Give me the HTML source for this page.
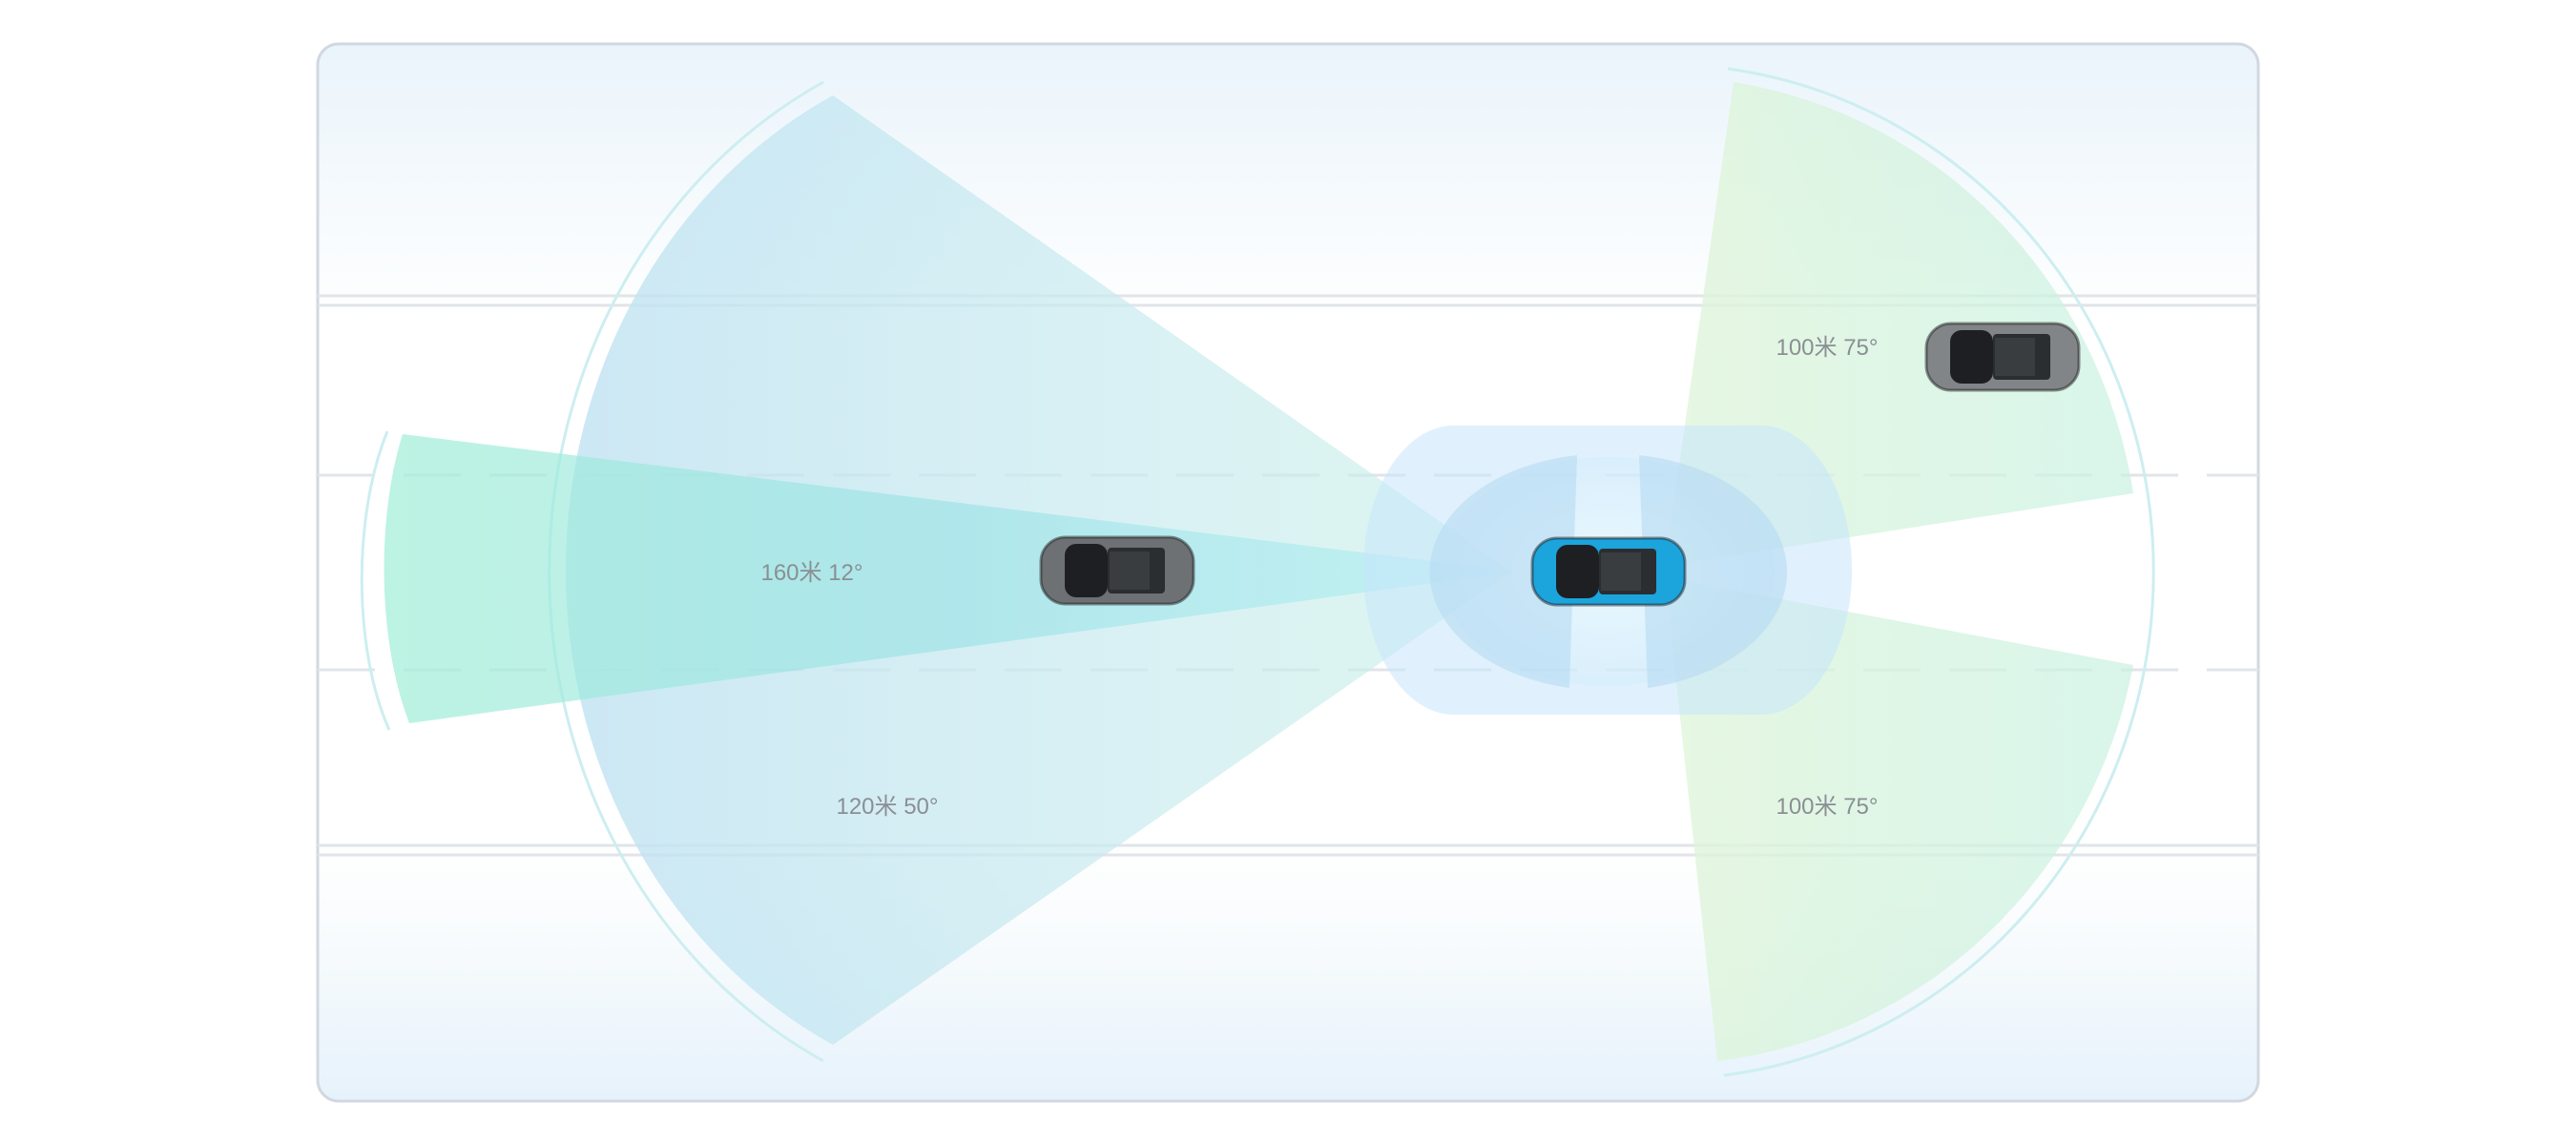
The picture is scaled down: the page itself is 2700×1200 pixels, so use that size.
<!DOCTYPE html>
<html><head><meta charset="utf-8"><style>
html,body{margin:0;padding:0;background:#fff;}
svg{display:block}
text{font-family:"Liberation Sans","Noto Sans CJK SC",sans-serif;font-size:24px;fill:#8a8f94;}
</style></head><body>
<svg width="2700" height="1200" viewBox="0 0 2700 1200" xmlns="http://www.w3.org/2000/svg">
<defs>
<linearGradient id="bg" x1="0" y1="0" x2="0" y2="1">
<stop offset="0" stop-color="#eaf4fb"/><stop offset="0.22" stop-color="#fbfdfe"/>
<stop offset="0.26" stop-color="#ffffff"/><stop offset="0.75" stop-color="#ffffff"/>
<stop offset="0.85" stop-color="#f8fbfd"/><stop offset="1" stop-color="#e6f2fb"/>
</linearGradient>
<linearGradient id="g120" x1="0" y1="0" x2="1" y2="0">
<stop offset="0" stop-color="#bfe2f2" stop-opacity="0.8"/><stop offset="0.6" stop-color="#c9ebef" stop-opacity="0.7"/><stop offset="1" stop-color="#c6f0e6" stop-opacity="0.6"/>
</linearGradient>
<linearGradient id="g160" x1="0" y1="0" x2="1" y2="0">
<stop offset="0" stop-color="#a6efd8" stop-opacity="0.75"/><stop offset="0.5" stop-color="#8fe0e3" stop-opacity="0.55"/><stop offset="1" stop-color="#a8ecf5" stop-opacity="0.5"/>
</linearGradient>
<linearGradient id="g100" x1="0" y1="0" x2="1" y2="0">
<stop offset="0" stop-color="#e0f5da" stop-opacity="0.8"/><stop offset="1" stop-color="#c9f1e2" stop-opacity="0.7"/>
</linearGradient>
<radialGradient id="gl" cx="0.5" cy="0.5" r="0.5">
<stop offset="0" stop-color="#f2ffff"/><stop offset="1" stop-color="#d3ecfb"/>
</radialGradient>
<g id="car">
<rect x="-80" y="-35" width="160" height="70" rx="26" fill="currentColor"/>
<rect x="-55" y="-28" width="45" height="56" rx="12" fill="#1d1f22"/>
<rect x="-10" y="-24" width="60" height="48" rx="4" fill="#2b2e31"/>
<rect x="-8" y="-20" width="42" height="40" fill="#3a3d40"/>
<rect x="-80" y="-35" width="160" height="70" rx="26" fill="none" stroke="#222" stroke-width="3" opacity="0.5"/>
</g>
</defs>
<rect x="333" y="46" width="2034" height="1108" rx="22" fill="url(#bg)" stroke="#d2d8e0" stroke-width="3"/>
<g stroke="#e1e4e8" stroke-width="3">
<line x1="333" y1="310" x2="2367" y2="310"/><line x1="333" y1="320" x2="2367" y2="320"/>
<line x1="333" y1="886" x2="2367" y2="886"/><line x1="333" y1="896" x2="2367" y2="896"/>
<line x1="333" y1="498" x2="2367" y2="498" stroke-dasharray="60 30"/>
<line x1="333" y1="702" x2="2367" y2="702" stroke-dasharray="60 30"/>
</g>
<g fill="none" stroke="#cdeef0" stroke-width="3">
<path d="M863 86 A524 575 0 0 0 863 1112"/>
<path d="M406 452 C 370 540, 370 680, 408 765"/>
<path d="M1811 72 A515 532 0 0 1 1807 1127"/>
</g>
<path d="M1584 599 L873 100 A509 557 0 0 0 873 1095 Z" fill="url(#g120)"/>
<path d="M1745 593 L1817 86 A502 519 0 0 1 2236 517 Z" fill="url(#g100)"/>
<path d="M1745 605 L2236 697 A502 519 0 0 1 1800 1112 Z" fill="url(#g100)"/>
<path d="M1590 599 L422 455 C 395 540, 395 670, 429 758 Z" fill="url(#g160)"/>
<rect x="1429" y="446" width="512" height="303" rx="95" ry="151" fill="#c6e6fb" opacity="0.55"/>
<ellipse cx="1685" cy="599" rx="175" ry="120" fill="url(#gl)" opacity="0.5"/>
<path d="M1653 477 A183 124 0 0 0 1645 721 Z" fill="#b3d9f2" opacity="0.55"/>
<path d="M1718 477 A183 124 0 0 1 1727 721 Z" fill="#b3d9f2" opacity="0.55"/>
<g color="#1ca4dd" transform="translate(1686,599)"><use href="#car"/></g>
<g color="#6e7174" transform="translate(1171,598)"><use href="#car"/></g>
<g color="#828588" transform="translate(2099,374)"><use href="#car"/></g>
<text x="851" y="608" text-anchor="middle">160米  12°</text>
<text x="930" y="853" text-anchor="middle">120米  50°</text>
<text x="1915" y="372" text-anchor="middle">100米  75°</text>
<text x="1915" y="853" text-anchor="middle">100米  75°</text>
</svg>
</body></html>
